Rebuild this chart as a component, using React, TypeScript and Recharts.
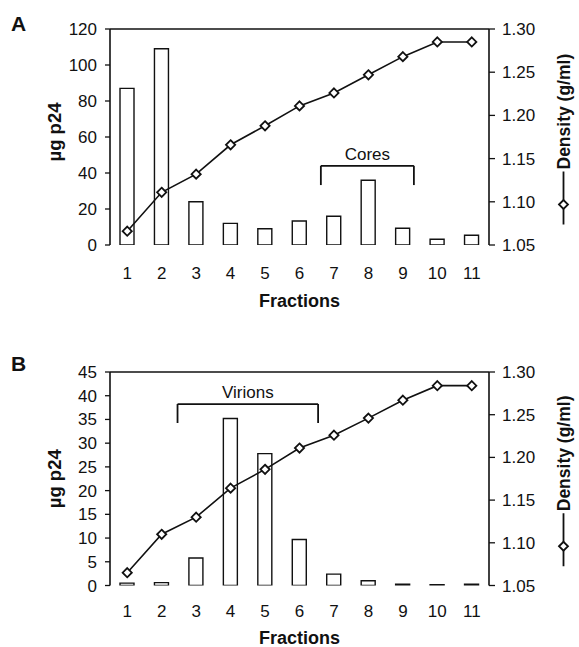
import React from 'react';
import { ComposedChart, Bar, Line, XAxis, YAxis, ReferenceLine, Label } from 'recharts';

const fractions = [1, 2, 3, 4, 5, 6, 7, 8, 9, 10, 11];
const fractionLabels = ['1', '2', '3', '4', '5', '6', '7', '8', '9', '10', '11'];
const fractionBoundaries = [0.5, 1.5, 2.5, 3.5, 4.5, 5.5, 6.5, 7.5, 8.5, 9.5, 10.5, 11.5];

const p24Cores = [87, 109, 24, 12, 9, 13.3, 16, 36, 9.3, 3.2, 5.4];
const densityCores = [1.066, 1.111, 1.132, 1.166, 1.188, 1.211, 1.226, 1.247, 1.268, 1.285, 1.285];

const p24Virions = [0.5, 0.6, 5.8, 35.2, 27.8, 9.7, 2.4, 1.0, 0.3, 0.15, 0.3];
const densityVirions = [1.065, 1.11, 1.13, 1.164, 1.186, 1.211, 1.226, 1.246, 1.267, 1.284, 1.284];

const p24TicksA = [0, 20, 40, 60, 80, 100, 120];
const p24TicksB = [0, 5, 10, 15, 20, 25, 30, 35, 40, 45];
const densityTicks = [1.05, 1.1, 1.15, 1.2, 1.25, 1.3];

const coresBracket = { text: 'Cores', from: 6.62, to: 9.32, top: 44, bottom: 33.3 };
const virionsBracket = { text: 'Virions', from: 2.46, to: 6.54, top: 38.25, bottom: 34.25 };

const FONT = '"Liberation Sans", Arial, Helvetica, sans-serif';
const INK = '#111';

const buildRows = (p24: number[], density: number[]) =>
  fractions.map((f, i) => ({ f, p24: p24[i], density: density[i] }));

const Diamond = (props: any) => {
  const { cx, cy } = props;
  if (cx == null || cy == null) return null;
  const s = 4.6;
  return (
    <polygon
      points={`${cx},${cy - s} ${cx + s},${cy} ${cx},${cy + s} ${cx - s},${cy}`}
      fill="#fff"
      stroke={INK}
      strokeWidth={1.8}
    />
  );
};

const makeLeftTitle = (shift: number) => (props: any) => {
  const vb = props.viewBox || {};
  const x = vb.x + 54;
  const y = vb.y + vb.height / 2 + shift;
  return (
    <text
      x={x}
      y={y}
      transform={`rotate(-90 ${x} ${y})`}
      textAnchor="middle"
      dominantBaseline="central"
      fontFamily={FONT}
      fontWeight="bold"
      fontSize={18.5}
      fill={INK}
    >
      µg p24
    </text>
  );
};

const makeRightTitle = (shift: number) => (props: any) => {
  const vb = props.viewBox || {};
  const x = vb.x + 74.5;
  const y = vb.y + vb.height / 2 + shift;
  const total = 172;
  const start = -total / 2;
  return (
    <g transform={`translate(${x} ${y}) rotate(-90)`}>
      <line x1={start} y1={0} x2={start + 53} y2={0} stroke={INK} strokeWidth={1.8} />
      <polygon
        points={`${start + 20},-4.5 ${start + 24.5},0 ${start + 20},4.5 ${start + 15.5},0`}
        fill="#fff"
        stroke={INK}
        strokeWidth={1.8}
      />
      <text
        x={start + 55}
        y={0}
        textAnchor="start"
        dominantBaseline="central"
        fontFamily={FONT}
        fontWeight="bold"
        fontSize={17.5}
        fill={INK}
      >
        Density (g/ml)
      </text>
    </g>
  );
};

const makeBottomTitle = (dy: number) => (props: any) => {
  const vb = props.viewBox || {};
  return (
    <text
      x={vb.x + vb.width / 2}
      y={vb.y + dy}
      textAnchor="middle"
      fontFamily={FONT}
      fontWeight="bold"
      fontSize={18}
      fill={INK}
    >
      Fractions
    </text>
  );
};

type PanelProps = {
  p24: number[];
  density: number[];
  p24Ticks: number[];
  bracket: { text: string; from: number; to: number; top: number; bottom: number };
  top: number;
  height: number;
  marginTop: number;
  axisHeight: number;
  labelMargin: number;
  titleDy: number;
  leftShift: number;
  rightShift: number;
};

const Panel = ({ p24, density, p24Ticks, bracket, top, height, marginTop, axisHeight, labelMargin, titleDy, leftShift, rightShift }: PanelProps) => {
  const rows = buildRows(p24, density);
  const maxP24 = p24Ticks[p24Ticks.length - 1];
  const tickStyle = { fontFamily: FONT, fontSize: 17, fill: INK };
  return (
    <div style={{ position: 'absolute', left: 0, top, width: 579, height }}>
      <ComposedChart
        width={579}
        height={height}
        data={rows}
        margin={{ top: marginTop, right: 0, left: 0, bottom: 0 }}
      >
        <XAxis
          xAxisId="marks"
          type="number"
          domain={[0.5, 11.5]}
          ticks={fractionBoundaries}
          allowDataOverflow
          tick={false}
          tickSize={6}
          height={0}
          axisLine={{ stroke: INK, strokeWidth: 1.6 }}
          tickLine={{ stroke: INK, strokeWidth: 1.3 }}
        />
        <XAxis
          xAxisId="f"
          dataKey="f"
          type="number"
          domain={[0.5, 11.5]}
          ticks={fractions}
          allowDataOverflow
          tickFormatter={(v: number) => fractionLabels[fractions.indexOf(v)]}
          axisLine={false}
          tickLine={false}
          tickSize={6}
          tickMargin={labelMargin}
          tick={tickStyle}
          height={axisHeight}
        >
          <Label content={makeBottomTitle(titleDy)} />
        </XAxis>
        <YAxis
          yAxisId="left"
          domain={[0, maxP24]}
          ticks={p24Ticks}
          allowDataOverflow
          width={110}
          tickSize={5}
          tickMargin={8}
          tick={tickStyle}
          axisLine={{ stroke: INK, strokeWidth: 1.6 }}
          tickLine={{ stroke: INK, strokeWidth: 1.3 }}
          interval={0}
        >
          <Label content={makeLeftTitle(leftShift)} />
        </YAxis>
        <YAxis
          yAxisId="right"
          orientation="right"
          domain={[1.05, 1.3]}
          ticks={densityTicks}
          allowDataOverflow
          width={90}
          tickSize={6}
          tickMargin={7}
          tick={tickStyle}
          tickFormatter={(v: number) => v.toFixed(2)}
          axisLine={{ stroke: INK, strokeWidth: 1.6 }}
          tickLine={{ stroke: INK, strokeWidth: 1.3 }}
          interval={0}
        >
          <Label content={makeRightTitle(rightShift)} />
        </YAxis>
        <ReferenceLine xAxisId="f" yAxisId="left" y={maxP24} stroke={INK} strokeWidth={1.4} />
        <Bar
          xAxisId="f"
          yAxisId="left"
          dataKey="p24"
          barSize={14}
          fill="#fff"
          stroke={INK}
          strokeWidth={1.4}
          isAnimationActive={false}
        />
        <Line
          xAxisId="f"
          yAxisId="right"
          dataKey="density"
          type="linear"
          stroke={INK}
          strokeWidth={1.6}
          dot={<Diamond />}
          activeDot={false}
          isAnimationActive={false}
        />
        <ReferenceLine
          xAxisId="f"
          yAxisId="left"
          segment={[
            { x: bracket.from, y: bracket.top },
            { x: bracket.to, y: bracket.top },
          ]}
          stroke={INK}
          strokeWidth={1.8}
          label={{ value: bracket.text, position: 'top', offset: 6, fontFamily: FONT, fontSize: 17, fill: INK }}
        />
        <ReferenceLine
          xAxisId="f"
          yAxisId="left"
          segment={[
            { x: bracket.from, y: bracket.top },
            { x: bracket.from, y: bracket.bottom },
          ]}
          stroke={INK}
          strokeWidth={1.8}
        />
        <ReferenceLine
          xAxisId="f"
          yAxisId="left"
          segment={[
            { x: bracket.to, y: bracket.top },
            { x: bracket.to, y: bracket.bottom },
          ]}
          stroke={INK}
          strokeWidth={1.8}
        />
      </ComposedChart>
    </div>
  );
};

export default function App() {
  return (
    <div style={{ position: 'absolute', left: 0, top: 0, width: 579, height: 647, background: '#fff' }}>
      <Panel
        p24={p24Cores}
        density={densityCores}
        p24Ticks={p24TicksA}
        bracket={coresBracket}
        top={0}
        height={320}
        marginTop={29}
        axisHeight={75}
        labelMargin={16}
        titleDy={61.5}
        leftShift={-5}
        rightShift={1.5}
      />
      <Panel
        p24={p24Virions}
        density={densityVirions}
        p24Ticks={p24TicksB}
        bracket={virionsBracket}
        top={320}
        height={327}
        marginTop={52}
        axisHeight={61.5}
        labelMargin={13}
        titleDy={58}
        leftShift={0}
        rightShift={1.5}
      />
      <svg width={579} height={647} style={{ position: 'absolute', left: 0, top: 0, pointerEvents: 'none' }}>
        <text x={11} y={31} fontFamily={FONT} fontWeight="bold" fontSize={21} fill={INK}>A</text>
        <text x={11} y={371} fontFamily={FONT} fontWeight="bold" fontSize={21} fill={INK}>B</text>
      </svg>
    </div>
  );
}
